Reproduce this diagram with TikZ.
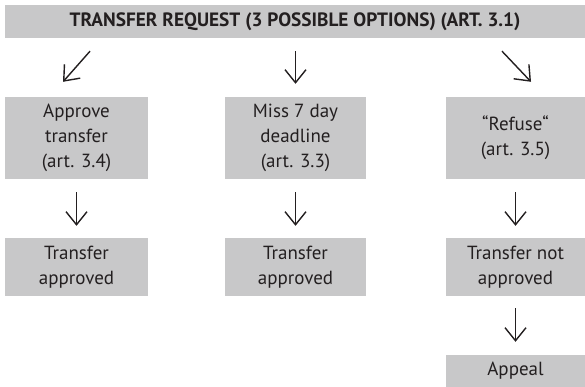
\documentclass[tikz,border=0pt]{standalone}
\usepackage{fontspec}
\setmainfont{PT Sans}
\usetikzlibrary{arrows.meta}
\definecolor{boxgray}{RGB}{200,200,201}
\definecolor{ink}{RGB}{35,31,32}

\begin{document}
\begin{tikzpicture}[x=1pt, y=-1pt,
        box/.style = {fill=boxgray, text=ink, align=center, inner sep=0pt, font=\fontsize{19}{25}\selectfont},
        arr/.style = {-{Straight Barb[length=13pt, width=21pt]}, line width=1.4pt, draw=ink}]
                \useasboundingbox (0, 0) rectangle (585, 387);
                \node[box, minimum width=580pt, minimum height=33pt, font=\bfseries\fontsize{19.3}{22}\selectfont] at (295, 21.5) (req) {TRANSFER REQUEST (3 POSSIBLE OPTIONS) (ART. 3.1)};

                \node[box, minimum width=143pt, minimum height=82pt] at (76.5, 138) (approve) {Approve\\transfer\\(art. 3.4)};
                \node[box, minimum width=141pt, minimum height=82pt] at (295.5, 138) (miss) {Miss 7 day\\deadline\\(art. 3.3)};
                \node[box, minimum width=139pt, minimum height=82pt] at (515.5, 138) (refuse) {“Refuse“\\(art. 3.5)};

                \node[box, minimum width=143pt, minimum height=58pt] at (76.5, 267) (okA) {Transfer\\approved};
                \node[box, minimum width=141pt, minimum height=58pt] at (295.5, 267) (okB) {Transfer\\approved};
                \node[box, minimum width=139pt, minimum height=58pt] at (515.5, 267) (notok) {Transfer not\\approved};
                \node[box, minimum width=139pt, minimum height=32pt] at (515.5, 371) (appeal) {Appeal};

                \draw [arr] ([xshift=-205pt, yshift=-13pt]req.south) -- ([xshift=-13.5pt, yshift=15pt]approve.north);
                \draw [arr] ([xshift=0.5pt, yshift=-13pt]req.south) -- ([yshift=13pt]miss.north);
                \draw [arr] ([xshift=207pt, yshift=-13pt]req.south) -- ([xshift=15.5pt, yshift=15pt]refuse.north);

                \draw [arr] ([yshift=-13pt]approve.south) -- ([yshift=12pt]okA.north);
                \draw [arr] ([yshift=-13pt]miss.south) -- ([yshift=12pt]okB.north);
                \draw [arr] ([yshift=-13pt]refuse.south) -- ([yshift=12pt]notok.north);
                \draw [arr] ([yshift=-12pt]notok.south) -- ([yshift=13pt]appeal.north);
\end{tikzpicture}
\end{document}
